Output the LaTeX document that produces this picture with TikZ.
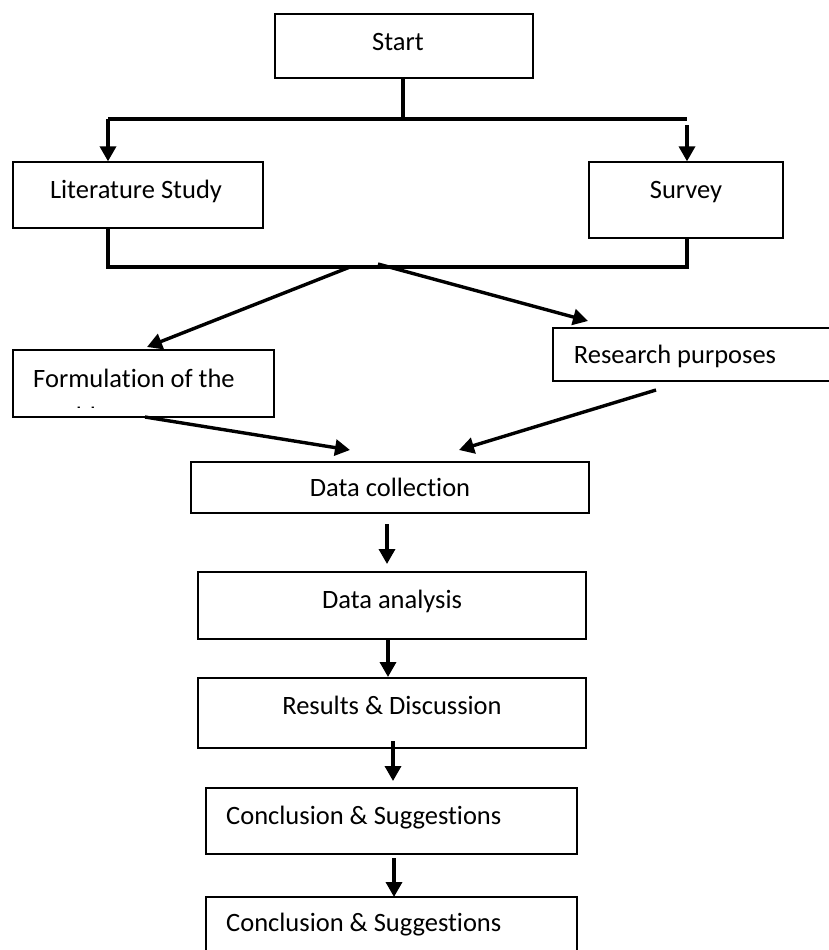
\documentclass[tikz,border=0pt]{standalone}
\usepackage{fontspec}
\setmainfont{Carlito}[Ligatures=NoCommon]
\usetikzlibrary{arrows.meta}
\begin{document}
\begin{tikzpicture}[x=1pt,y=-1pt,
  box/.style={draw=black,line width=1.3pt,rectangle,inner sep=0pt},
  lbl/.style={anchor=base,inner sep=0pt,font=\fontsize{26.5}{32}\selectfont},
  conn/.style={line width=3.4pt},
  arr/.style={line width=3.4pt,-{Triangle[length=15pt,width=16pt]}}]
\useasboundingbox (0,0) rectangle (828,950);
% boxes
\node[box,minimum width=258pt,minimum height=64pt] (start) at (404,46) {};
\node[box,minimum width=250pt,minimum height=66pt] (lit) at (138,195) {};
\node[box,minimum width=194pt,minimum height=76pt] (survey) at (686,200) {};
\node[box,minimum width=261pt,minimum height=67pt] (form) at (143.5,383.5) {};
\node[box,minimum width=287pt,minimum height=53pt] (research) at (696.5,354.5) {};
\node[box,minimum width=398pt,minimum height=51pt] (dcoll) at (390,487.5) {};
\node[box,minimum width=388pt,minimum height=67pt] (danal) at (392,605.5) {};
\node[box,minimum width=388pt,minimum height=70pt] (results) at (392,713) {};
\node[box,minimum width=371pt,minimum height=66pt] (concl1) at (391.5,821) {};
\node[box,minimum width=371pt,minimum height=63pt] (concl2) at (391.5,928.5) {};
% texts
\node[lbl] (tstart) at (398,51) {Start};
\node[lbl] (tlit) at (136,198) {Literature Study};
\node[lbl] (tsurvey) at (686,198) {Survey};
\node[lbl] (tform) at (134,387) {Formulation of the};
\begin{scope}
\clip (13,350) rectangle (274,407);
\node[lbl,anchor=base west] (tform2) at (39,425) {problem};
\end{scope}
\node[lbl] (tresearch) at (675,363) {Research purposes};
\node[lbl] (tdcoll) at (390,496) {Data collection};
\node[lbl] (tdanal) at (392,608) {Data analysis};
\node[lbl] (tresults) at (392,714) {Results \& Discussion};
\node[lbl,anchor=base west] (tconcl1) at (226,824) {Conclusion \& Suggestions};
\node[lbl,anchor=base west] (tconcl2) at (226,931) {Conclusion \& Suggestions};
% junction coordinates
\coordinate (s0) at (403,78);
\coordinate (top) at (403,119);
\coordinate (tl) at (108,119);
\coordinate (tr) at (687,119);
\coordinate (tr2) at (687,125);
\coordinate (l0) at (108,228);
\coordinate (bl) at (108,267);
\coordinate (br) at (687,267);
\coordinate (r0) at (687,238);
\coordinate (d1) at (350,267);
\coordinate (d2) at (378,264);
\coordinate (f0) at (145,417);
\coordinate (r1) at (656,390);
\coordinate (f1) at (147,347);
\coordinate (r2) at (588,321);
\coordinate (c1) at (350,450);
\coordinate (c2) at (459,450);
% connectors
\draw[conn] (s0) -- (top);
\draw[conn] (tl) -- (tr);
\draw[arr] (tl) -- (tl |- lit.north);
\draw[arr] (tr2) -- (tr2 |- survey.north);
\draw[conn] (l0) -- (bl) -- (br) -- (r0);
\draw[arr] (d1) -- (f1);
\draw[arr] (d2) -- (r2);
\draw[arr] (f0) -- (c1);
\draw[arr] (r1) -- (c2);
\draw[arr] (387,524) -- (387,564);
\draw[arr] (388,639) -- (388,677);
\draw[arr] (393,741) -- (393,781);
\draw[arr] (394,858) -- (394,897);
\end{tikzpicture}
\end{document}
